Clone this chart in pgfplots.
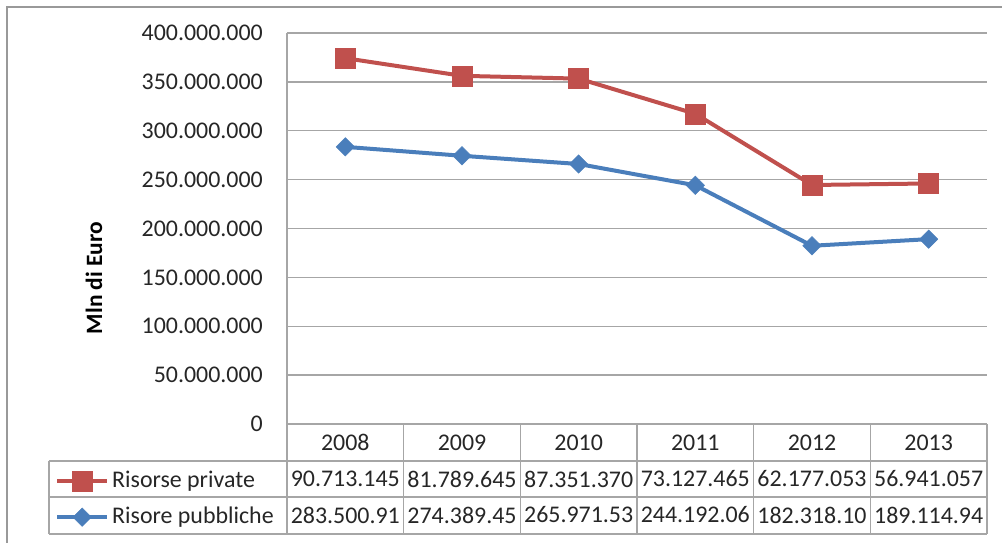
\documentclass[border=0pt]{standalone}
\usepackage{fontspec}
\setmainfont{Carlito}
\usepackage{pgfplots}
\usepackage{pgfplotstable}
\pgfplotsset{compat=1.18}

\definecolor{rosso}{RGB}{192,80,77}
\definecolor{blu}{RGB}{74,126,187}
\definecolor{griglia}{RGB}{166,166,166}
\definecolor{testo}{RGB}{38,38,38}

% values as printed in the data table (public first: the private line is stacked on it)
\pgfplotstableread{
x val
0 283500910
1 274389450
2 265971530
3 244192060
4 182318100
5 189114940
}\pubbliche
\pgfplotstableread{
x val
0 90713145
1 81789645
2 87351370
3 73127465
4 62177053
5 56941057
}\private

\newcommand{\tabfont}{\fontsize{24}{28}\selectfont}

\begin{document}
\begin{tikzpicture}[x=1bp,y=1bp]
% origin = lower left corner of the plot area
\begin{axis}[
  width=700bp, height=391bp, scale only axis,
  xmin=-0.5, xmax=5.5, ymin=0, ymax=400000000,
  stack plots=y,
  axis line style={draw=none},
  major tick length=0pt,
  xtick={0,1,2,3,4,5},
  xticklabels={2008,2009,2010,2011,2012,2013},
  xticklabel style={anchor=center, yshift=-18.5bp, font=\tabfont, text=testo},
  ytick={0,50000000,...,400000000},
  scaled y ticks=false,
  yticklabel style={font=\tabfont, text=testo, inner sep=0pt, xshift=-24bp,
    /pgf/number format/.cd, fixed, precision=0, 1000 sep={.}, assume math mode=true},
  ymajorgrids,
  grid style={griglia, line width=1.4bp},
  ylabel={Mln di Euro},
  ylabel style={at={(axis description cs:-0.2757,0.3734)}, anchor=center,
    font=\fontsize{23.5}{27}\selectfont\bfseries, text=black},
  clip=false,
  reverse legend,
  legend cell align=left,
  legend style={at={(axis description cs:-0.3314,-0.1150)}, anchor=north west,
    draw=none, fill=none, inner sep=0pt, font=\tabfont, text=testo,
    row sep=12bp, nodes={inner sep=0pt, text height=18bp, text depth=6bp},
    /tikz/every odd column/.append style={column sep=3bp}},
  legend image code/.code={\draw[mark repeat=2,mark phase=2]
    plot coordinates {(0bp,0bp) (25bp,0bp) (50bp,0bp)};},
]
\addplot[blu, line width=4bp, mark=square*,
  mark options={solid, rotate=45, line width=0.5bp, mark size=6.5bp}]
  table[x=x, y=val] {\pubbliche};
\addlegendentry{Risore pubbliche}
\addplot[rosso, line width=4bp, mark=square*,
  mark options={solid, line width=0.5bp, mark size=10bp}]
  table[x=x, y=val] {\private};
\addlegendentry{Risorse private}
\end{axis}

\begin{scope}[shift={(-287,-119)}]
% data table under the plot
\begin{scope}[griglia, line width=1.4bp]
\draw (287,119) -- (287,510);
\draw (287,119) -- (987,119);
\foreach \yy in {82,46,9} \draw (49,\yy) -- (987,\yy);
\draw (49,82) -- (49,9);
\foreach \i in {0,...,6} \draw ({287+116.667*\i},119) -- ({287+116.667*\i},9);
\end{scope}
\foreach \t [count=\i from 0] in {90.713.145,81.789.645,87.351.370,73.127.465,62.177.053,56.941.057}
  \node[font=\tabfont, text=testo, inner sep=0pt] at ({287+116.667*(\i+0.5)},64) {\t};
\foreach \t [count=\i from 0] in {283.500.91,274.389.45,265.971.53,244.192.06,182.318.10,189.114.94}
  \node[font=\tabfont, text=testo, inner sep=0pt] at ({287+116.667*(\i+0.5)},28) {\t};
% chart frame
\draw[gray!80, line width=2bp] (7,-10) -- (7,536) -- (1015,536);
\pgfresetboundingbox
\useasboundingbox (0,0) rectangle (1002,543);
\end{scope}
\end{tikzpicture}
\end{document}
